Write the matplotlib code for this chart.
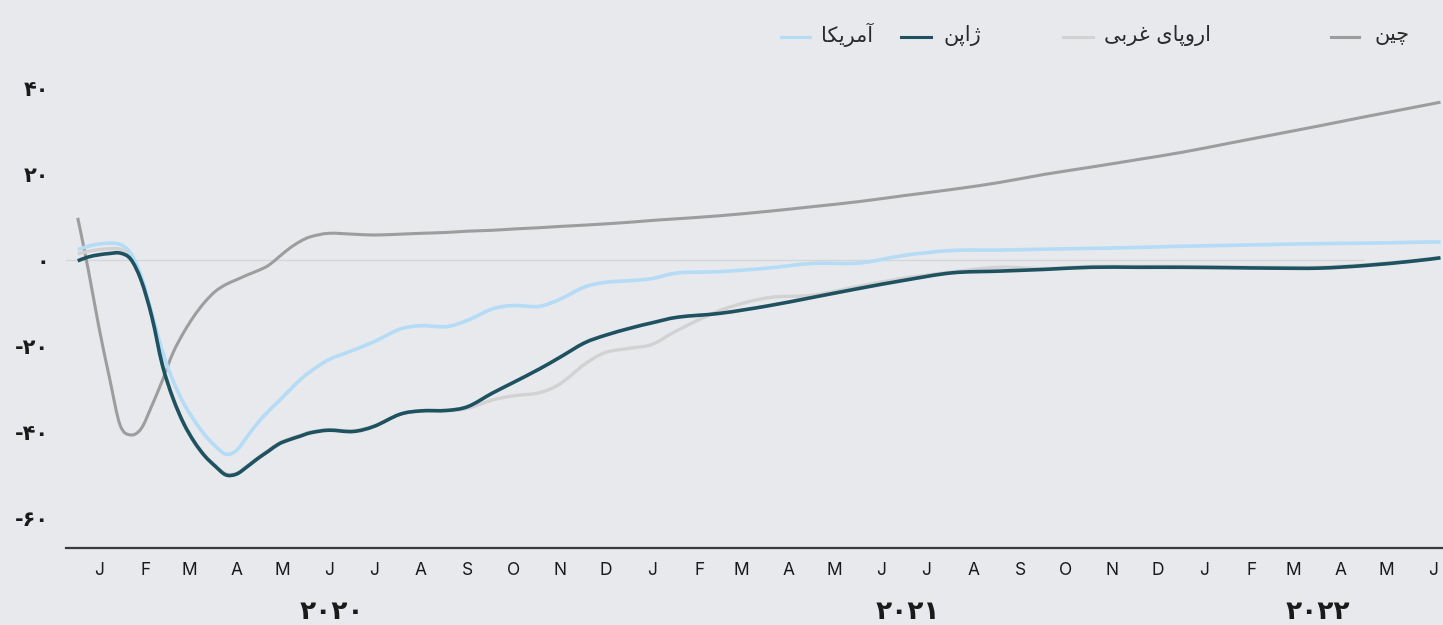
import numpy as np
import pandas as pd
import matplotlib
matplotlib.use('Agg')
import matplotlib.pyplot as plt
import matplotlib.dates as mdates
from matplotlib.lines import Line2D
from matplotlib.path import Path
from matplotlib.patches import PathPatch

# weekly through spring 2020, half-monthly to Jan 2021, then monthly
dates = pd.to_datetime([
    '2020-01-01', '2020-01-08', '2020-01-15', '2020-01-22', '2020-01-29',
    '2020-02-05', '2020-02-12', '2020-02-19', '2020-02-26',
    '2020-03-04', '2020-03-11', '2020-03-18', '2020-03-25',
    '2020-04-01', '2020-04-08', '2020-04-15', '2020-04-22', '2020-04-29',
    '2020-05-06', '2020-05-13', '2020-05-20', '2020-05-27',
    '2020-06-03', '2020-06-15', '2020-07-01', '2020-07-15', '2020-08-01', '2020-08-15',
    '2020-09-01', '2020-09-15', '2020-10-01', '2020-10-15', '2020-11-01', '2020-11-15',
    '2020-12-01', '2020-12-15', '2021-01-01', '2021-01-15',
    '2021-02-01', '2021-03-01', '2021-04-01', '2021-05-01', '2021-06-01', '2021-07-01',
    '2021-08-01', '2021-09-01', '2021-10-01', '2021-11-01', '2021-12-01',
    '2022-01-01', '2022-02-01', '2022-03-01', '2022-04-01', '2022-05-01', '2022-06-01',
    '2022-06-20'])

china = [9.8, -2.3, -15.6, -27.4, -38.4,
         -40.7, -39.2, -33.9, -28.0,
         -21.6, -16.9, -13.0, -9.8,
         -7.3, -5.7, -4.6, -3.5, -2.5,
         -1.3, 0.7, 2.7, 4.3,
         5.4, 6.2, 6.0, 5.8, 6.0, 6.2,
         6.4, 6.7, 6.9, 7.2, 7.5, 7.8,
         8.1, 8.4, 8.8, 9.2,
         9.6, 10.3, 11.3, 12.4, 13.6, 15.0,
         16.4, 18.0, 19.9, 21.6, 23.3,
         25.1, 27.2, 29.1, 31.2, 33.3, 35.4,
         36.7]

west_europe = [1.4, 2.0, 2.4, 2.6, 2.5,
               1.0, -4.6, -13.0, -24.2,
               -32.0, -37.8, -42.1, -45.4,
               -47.8, -49.7, -49.6, -47.9, -46.0,
               -44.3, -42.6, -41.6, -40.8,
               -40.0, -39.5, -39.7, -38.6, -35.9, -35.2,
               -35.1, -34.5, -32.6, -31.6, -30.9, -28.8,
               -24.3, -21.5, -20.5, -19.6,
               -16.3, -11.7, -8.8, -8.2, -6.1, -4.2,
               -2.8, -1.7, -2.0, -1.5, -1.5,
               -1.5, -1.6, -1.7, -1.7, -1.1, -0.2,
               0.6]

usa = [2.4, 3.2, 3.7, 3.9, 3.6,
       1.6, -3.8, -12.4, -21.3,
       -28.1, -33.3, -37.3, -40.7,
       -43.3, -45.2, -44.3, -41.1, -37.9,
       -35.2, -32.8, -30.3, -27.9,
       -25.9, -23.2, -21.0, -19.0, -16.1, -15.3,
       -15.5, -14.0, -11.4, -10.6, -10.8, -9.1,
       -6.3, -5.2, -4.8, -4.3,
       -3.0, -2.7, -1.9, -0.8, -0.7, 1.1,
       2.2, 2.3, 2.5, 2.7, 2.9,
       3.2, 3.4, 3.6, 3.8, 3.9, 4.1,
       4.2]

japan = [-0.2, 0.7, 1.2, 1.5, 1.6,
         0.2, -4.8, -13.2, -24.5,
         -32.2, -38.0, -42.3, -45.6,
         -48.0, -50.0, -49.8, -48.1, -46.2,
         -44.5, -42.8, -41.8, -41.0,
         -40.2, -39.6, -39.9, -38.7, -35.9, -35.1,
         -35.0, -34.1, -31.0, -28.5, -25.4, -22.6,
         -19.3, -17.5, -15.8, -14.6,
         -13.3, -12.4, -10.7, -8.7, -6.6, -4.7,
         -3.0, -2.6, -2.2, -1.7, -1.7,
         -1.7, -1.8, -1.9, -1.9, -1.3, -0.3,
         0.5]

y_ticks = [-60, -40, -20, 0, 20, 40]
month_letters = ['J', 'F', 'M', 'A', 'M', 'J', 'J', 'A', 'S', 'O', 'N', 'D']
years = ['2020', '2021', '2022']
year_label_dates = ['2020-06-17', '2021-07-03', '2022-03-31']

names = ['آمریکا', 'ژاپن', 'اروپای غربی', 'چین']

# matplotlib does no arabic shaping or bidi, so pick presentation forms
# by hand and lay the words out right-to-left
FORMS = {
    'ا': ('\uFE8D', '\uFE8E', None, None),
    'آ': ('\uFE81', '\uFE82', None, None),
    'ب': ('\uFE8F', '\uFE90', '\uFE91', '\uFE92'),
    'پ': ('\uFB56', '\uFB57', '\uFB58', '\uFB59'),
    'چ': ('\uFB7A', '\uFB7B', '\uFB7C', '\uFB7D'),
    'ر': ('\uFEAD', '\uFEAE', None, None),
    'ژ': ('\uFB8A', '\uFB8B', None, None),
    'و': ('\uFEED', '\uFEEE', None, None),
    'غ': ('\uFECD', '\uFECE', '\uFECF', '\uFED0'),
    'ک': ('\uFB8E', '\uFB8F', '\uFB90', '\uFB91'),
    'م': ('\uFEE1', '\uFEE2', '\uFEE3', '\uFEE4'),
    'ن': ('\uFEE5', '\uFEE6', '\uFEE7', '\uFEE8'),
    'ی': ('\uFBFC', '\uFBFD', '\uFBFE', '\uFBFF'),
}


def shape(text):
    words = []
    for word in text.split(' '):
        glyphs = []
        for i, ch in enumerate(word):
            iso, fin, ini, med = FORMS[ch]
            prev_joins = i > 0 and FORMS[word[i - 1]][2] is not None
            next_joins = i < len(word) - 1 and ini is not None
            if prev_joins and next_joins:
                glyphs.append(med)
            elif prev_joins:
                glyphs.append(fin)
            elif next_joins:
                glyphs.append(ini)
            else:
                glyphs.append(iso)
        words.append(''.join(reversed(glyphs)))
    return ' '.join(reversed(words))


FA_DIGITS = str.maketrans('0123456789', '۰۱۲۳۴۵۶۷۸۹')


def fa_num(v):
    s = str(abs(v)).translate(FA_DIGITS)
    return '-' + s if v < 0 else s


def smooth_line(ax, x, y, **kw):
    # catmull-rom through the points, drawn as cubic bezier segments
    pts = np.column_stack([mdates.date2num(x), np.asarray(y, float)])
    n = len(pts)
    verts = [pts[0]]
    codes = [Path.MOVETO]
    for i in range(n - 1):
        p0, p1 = pts[max(i - 1, 0)], pts[i]
        p2, p3 = pts[i + 1], pts[min(i + 2, n - 1)]
        verts += [p1 + (p2 - p0) / 6, p2 - (p3 - p1) / 6, p2]
        codes += [Path.CURVE4] * 3
    ax.add_patch(PathPatch(Path(verts, codes), fill=False, capstyle='butt',
                           joinstyle='round', **kw))


bg = '#e8e9ed'
colors = {'china': '#9d9d9d', 'we': '#d2d2d2', 'usa': '#b4dcf6', 'japan': '#1e5260'}

fig = plt.figure(figsize=(14.43, 6.25), dpi=100, facecolor=bg)
ax = fig.add_axes([66 / 1443, 77 / 625, 1 - 66 / 1443, 481.5 / 625])
ax.set_facecolor(bg)

ax.axhline(0, xmax=0.942, color='#d4d5d9', lw=1.0, zorder=1)

smooth_line(ax, dates, china, edgecolor=colors['china'], lw=2.2, zorder=2)
smooth_line(ax, dates, west_europe, edgecolor=colors['we'], lw=2.4, zorder=3)
smooth_line(ax, dates, usa, edgecolor=colors['usa'], lw=2.6, zorder=4)
smooth_line(ax, dates, japan, edgecolor=colors['japan'], lw=2.6, zorder=5)

ax.set_ylim(-67, 45)
ax.set_xlim(pd.Timestamp('2019-12-24 06:00'), pd.Timestamp('2022-06-21 16:00'))

for side in ['top', 'right', 'left']:
    ax.spines[side].set_visible(False)
ax.spines['bottom'].set_color('#3a3a3a')
ax.spines['bottom'].set_linewidth(1.6)

ax.set_yticks(y_ticks)
ax.set_yticklabels([fa_num(v) for v in y_ticks], fontfamily='DejaVu Sans',
                   fontweight='bold', fontsize=15, color='#1a1a1a')

month_ticks = pd.date_range('2020-01-01', '2022-06-01', freq='MS') + pd.Timedelta(days=14)
ax.set_xticks(month_ticks)
ax.set_xticklabels([month_letters[d.month - 1] for d in month_ticks],
                   fontfamily='Inter', fontsize=12.5, color='#1a1a1a')
ax.tick_params(axis='y', length=0, pad=12)
ax.tick_params(axis='x', length=0, pad=10)

for yr, d in zip(years, year_label_dates):
    ax.text(pd.Timestamp(d), -0.133, yr.translate(FA_DIGITS), transform=ax.get_xaxis_transform(),
            ha='center', va='center', fontfamily='DejaVu Sans', fontweight='bold',
            fontsize=19, color='#1a1a1a')

# legend along the top, read right to left
legend_items = [
    (names[0], colors['usa'], 781, 810, 821),
    (names[1], colors['japan'], 901, 931, 943),
    (names[2], colors['we'], 1063, 1093, 1104),
    (names[3], colors['china'], 1331, 1359, 1374),
]
for label, c, x0, x1, xt in legend_items:
    fig.add_artist(Line2D([x0 / 1443, x1 / 1443], [0.941, 0.941], color=c, lw=2.2,
                          transform=fig.transFigure))
    fig.text(xt / 1443, 0.944, shape(label), ha='left', va='center',
             fontfamily='DejaVu Sans', fontsize=15, color='#2a2a2a')

fig.savefig('out.png', dpi=100, facecolor=bg)
